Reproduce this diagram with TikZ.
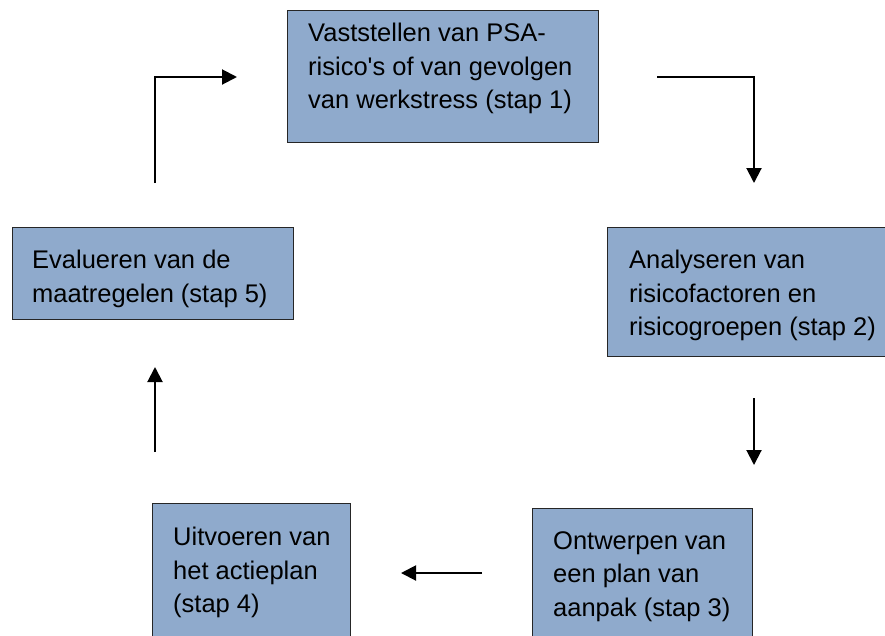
\documentclass[tikz,border=0pt]{standalone}
\usepackage{fontspec}
\setmainfont{Liberation Sans}
\usetikzlibrary{arrows.meta}
\definecolor{stapblauw}{RGB}{143,170,204}

\begin{document}
\begin{tikzpicture}[x=1pt, y=-1pt,
  stap/.style={draw=black!85, line width=1.3pt, fill=stapblauw, anchor=north west, inner sep=0pt},
  tekst/.style={anchor=north west, align=left, inner sep=0pt, font=\fontsize{25.5}{33.8}\selectfont},
  pijl/.style={line width=2pt, -{Triangle[length=15pt, width=15pt]}}]
\useasboundingbox (0,0) rectangle (885,635);
\clip (0,0) rectangle (885,635);
\node[stap, minimum width=311pt, minimum height=132pt] (stap1) at (287,10) {};
\node[stap, minimum width=290pt, minimum height=129pt] (stap2) at (607,227) {};
\node[stap, minimum width=220pt, minimum height=140pt] (stap3) at (532,508) {};
\node[stap, minimum width=198pt, minimum height=140pt] (stap4) at (152,503) {};
\node[stap, minimum width=281pt, minimum height=92pt] (stap5) at (12,227) {};
\node[tekst] (tekst1) at (308,22.7) {Vaststellen van PSA-\\risico\textquotesingle s of van gevolgen\\van werkstress (stap 1)};
\node[tekst] (tekst2) at (629,249.7) {Analyseren van\\risicofactoren en\\risicogroepen (stap 2)};
\node[tekst] (tekst3) at (553,531) {Ontwerpen van\\een plan van\\aanpak (stap 3)};
\node[tekst] (tekst4) at (173,526.7) {Uitvoeren van\\het actieplan\\(stap 4)};
\node[tekst] (tekst5) at (32,249.7) {Evalueren van de\\maatregelen (stap 5)};
\coordinate (p51) at (155,183);
\coordinate (p15) at (237,77);
\coordinate (p12) at (657,77);
\coordinate (p21) at (754,183);
\coordinate (p23) at (754,398);
\coordinate (p32) at (754,465);
\coordinate (p34) at (482,573);
\coordinate (p43) at (401,573);
\coordinate (p45) at (155,452);
\coordinate (p54) at (155,367);
\draw[pijl] (p51) |- (p15);
\draw[pijl] (p12) -| (p21);
\draw[pijl] (p23) -- (p32);
\draw[pijl] (p34) -- (p43);
\draw[pijl] (p45) -- (p54);
\end{tikzpicture}
\end{document}
